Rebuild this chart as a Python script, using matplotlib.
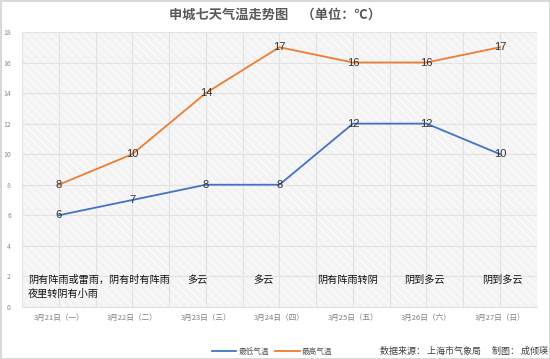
import matplotlib
matplotlib.use("Agg")
import matplotlib.pyplot as plt
from matplotlib.patches import Rectangle
import numpy as np

plt.rcParams["font.family"] = ["Noto Sans CJK SC", "DejaVu Sans"]
plt.rcParams["hatch.linewidth"] = 0.6

# Daten
days = ["3月21日（一）", "3月22日（二）", "3月23日（三）", "3月24日（四）",
        "3月25日（五）", "3月26日（六）", "3月27日（日）"]
low_temp = [6, 7, 8, 8, 12, 12, 10]
high_temp = [8, 10, 14, 17, 16, 16, 17]
weather = ["阴有阵雨或雷雨，阴有时有阵雨\n夜里转阴有小雨", "", "多云", "多云",
           "阴有阵雨转阴", "阴到多云", "阴到多云"]
y_ticks = [0, 2, 4, 6, 8, 10, 12, 14, 16, 18]

BLUE = "#4472c4"
ORANGE = "#ed7d31"

fig = plt.figure(figsize=(5.5, 3.59), dpi=100)
fig.patch.set_facecolor("white")
fig.patch.set_edgecolor("#d9d9d9")
fig.patch.set_linewidth(1.0)

ax = fig.add_axes([0.04, 0.145, 0.936, 0.766])
x = np.arange(len(days))

ax.set_facecolor("#f3f3f3")
ax.add_patch(Rectangle((0, 0), 1, 1, transform=ax.transAxes, facecolor="none",
                       edgecolor="white", hatch="\\\\\\\\", lw=0, zorder=0))

ax.set_xlim(-0.5, len(days) - 0.5)
ax.set_ylim(0, 18)
ax.set_yticks(y_ticks)
ax.set_yticklabels([str(v) for v in y_ticks], fontsize=5, color="#8c8c8c")
ax.set_xticks(x)
ax.set_xticklabels(days, fontsize=5.5, color="#7f7f7f")
ax.set_xticks(np.arange(-0.5, len(days), 1.0), minor=True)
ax.tick_params(which="both", length=0, pad=5)
ax.tick_params(axis="y", pad=8)
ax.grid(True, which="major", color="#e2e2e2", lw=0.8, zorder=1)
ax.grid(True, which="minor", axis="x", color="#e2e2e2", lw=0.8, zorder=1)
for sp in ax.spines.values():
    sp.set_visible(False)
ax.spines["bottom"].set_visible(True)
ax.spines["bottom"].set_color("#e2e2e2")

ax.plot(x, low_temp, color=BLUE, lw=1.3, label="最低气温", zorder=3)
ax.plot(x, high_temp, color=ORANGE, lw=1.3, label="最高气温", zorder=3)

for xi, v in zip(x, low_temp):
    ax.text(xi, v, str(v), ha="center", va="center", fontsize=8,
            family=["Liberation Sans", "DejaVu Sans"], color="#333333", zorder=4)
for xi, v in zip(x, high_temp):
    ax.text(xi, v, str(v), ha="center", va="center", fontsize=8,
            family=["Liberation Sans", "DejaVu Sans"], color="#333333", zorder=4)

# Wettertexte
shifts = [-0.42, 0, -0.12, -0.22, -0.07, -0.03, 0.03]
for i, w in enumerate(weather):
    if not w:
        continue
    if "\n" in w:
        ax.text(i + shifts[i], 1.77, w.split("\n")[0], ha="left", va="center",
                fontsize=7.3, color="#111111", zorder=4)
        ax.text(i + shifts[i], 0.85, w.split("\n")[1], ha="left", va="center",
                fontsize=7.3, color="#111111", zorder=4)
    else:
        ax.text(i + shifts[i], 1.77, w, ha="center", va="center",
                fontsize=7.3, color="#111111", zorder=4)

fig.text(0.5, 0.958, "申城七天气温走势图　（单位：℃）", ha="center", va="center",
         fontsize=9.5, fontweight="bold", color="#595959")

leg = fig.legend(loc="center", bbox_to_anchor=(0.495, 0.02), ncol=2, frameon=False,
                 fontsize=5.5, handlelength=3.2, handletextpad=0.3, columnspacing=0.8)
for t in leg.get_texts():
    t.set_color("#595959")

fig.text(0.996, 0.022, "数据来源： 上海市气象局　 制图： 成倾瑛", ha="right", va="center",
         fontsize=6.5, color="#404040")

fig.savefig("out.png", dpi=100, facecolor=fig.get_facecolor(),
            edgecolor=fig.get_edgecolor())
